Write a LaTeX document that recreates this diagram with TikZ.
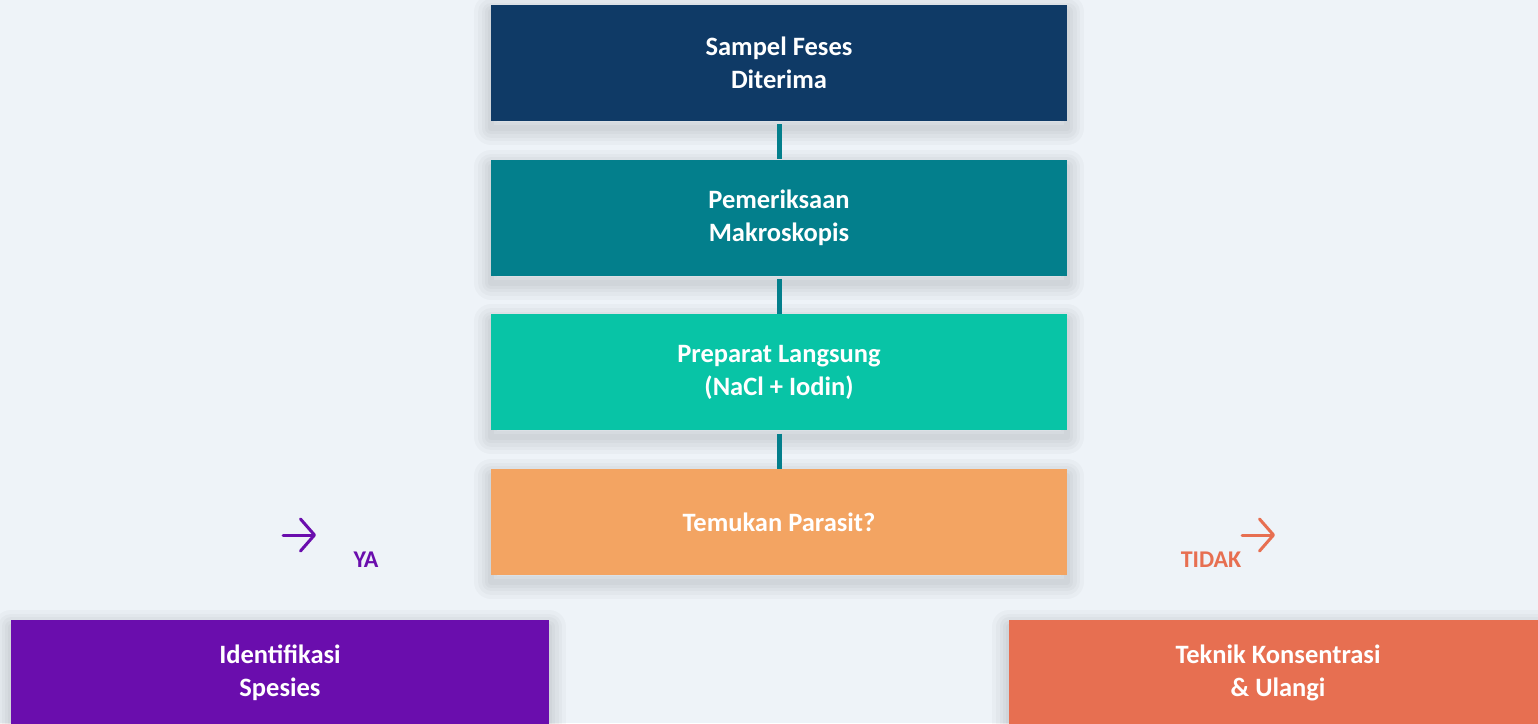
\documentclass[tikz,border=0pt]{standalone}
\usepackage{fontspec}
\setmainfont{Carlito}
\usepackage{tikz}
\usetikzlibrary{positioning, arrows.meta}

\definecolor{bgc}{HTML}{EEF3F8}
\definecolor{navyc}{HTML}{0F3A66}
\definecolor{tealc}{HTML}{037F8C}
\definecolor{mintc}{HTML}{08C4A6}
\definecolor{orangec}{HTML}{F3A462}
\definecolor{purplec}{HTML}{6A0DAD}
\definecolor{coralc}{HTML}{E76F51}

\tikzset{softshadow/.style={preaction={draw=black,draw opacity=0.022,line width=#1,
  line join=round,transform canvas={yshift=-7pt}}}}

\begin{document}
\begin{tikzpicture}[x=1pt,y=-1pt,node distance=38pt,
                    semithick]
\tikzstyle{stepbox}=[rectangle,draw=none,text=white,align=center,inner sep=0pt,
  minimum width=576pt,minimum height=116pt,
  font=\fontsize{26.5}{33}\selectfont\bfseries,
  softshadow=34pt,softshadow=26pt,softshadow=19pt,softshadow=12pt,softshadow=6pt]
\tikzstyle{link}=[-,draw=tealc,line width=5pt,shorten <=3pt]
\tikzstyle{choice}=[line width=3pt,line cap=round,
  -{Straight Barb[length=14pt,width=32pt,line cap=round,round]}]
\tikzstyle{choicelabel}=[inner sep=0pt,font=\fontsize{24}{28}\selectfont\bfseries]

        \useasboundingbox (0,0) rectangle (1538,723);
        \fill[bgc] (0,0) rectangle (1538,723);

        \node[stepbox, fill=navyc]                  (s0)  at (779,63)     {Sampel Feses\\Diterima};
        \node[stepbox, fill=tealc]                  (s1)  [below=of s0]   {Pemeriksaan\\Makroskopis};
        \node[stepbox, fill=mintc]                  (s2)  [below=of s1]   {Preparat Langsung\\(NaCl + Iodin)};
        \node[stepbox, fill=orangec, minimum height=106pt] (s3) [below=of s2] {Temukan Parasit?};

        \node[stepbox, fill=purplec, minimum width=538pt, minimum height=107pt] (ya)    at (280,673)  {Identifikasi\\Spesies};
        \node[stepbox, fill=coralc,  minimum width=538pt, minimum height=107pt] (tidak) at (1278,673) {Teknik Konsentrasi\\\& Ulangi};

        \path
        (s0) edge[link] (s1)
        (s1) edge[link] (s2)
        (s2) edge[link] (s3)
        ; %end path

        % YA / TIDAK
        \coordinate (ya0) at (283,535);
        \coordinate (ya1) at (316,535);
        \draw[choice, draw=purplec] (ya0) -- (ya1);
        \node[choicelabel, text=purplec] (lya) at (366,560) {YA};

        \coordinate (td0) at (1242,535);
        \coordinate (td1) at (1275,535);
        \draw[choice, draw=coralc] (td0) -- (td1);
        \node[choicelabel, text=coralc] (ltd) at (1211,560) {TIDAK};

\end{tikzpicture}
\end{document}
